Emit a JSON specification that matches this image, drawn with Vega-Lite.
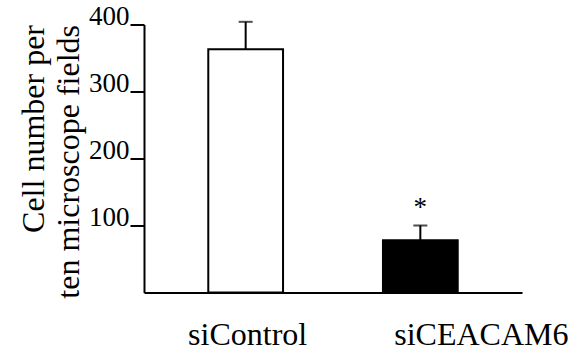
{
  "$schema": "https://vega.github.io/schema/vega-lite/v6.json",
  "autosize": {"type": "none"},
  "padding": {"left": 144, "top": 24.5, "right": 57, "bottom": 61.5},
  "width": 378,
  "height": 268,
  "background": "white",
  "config": {"view": {"stroke": null}, "font": "Liberation Serif"},
  "data": {"values": [
    {"group": "siControl", "value": 363, "err": 404, "sig": ""},
    {"group": "siCEACAM6", "value": 78, "err": 100, "sig": "*"}
  ]},
  "encoding": {
    "x": {
      "field": "group", "type": "nominal", "sort": ["siControl", "siCEACAM6"],
      "scale": {"paddingInner": 0.572, "paddingOuter": 0.368},
      "axis": {
        "title": null, "ticks": false, "domainColor": "black", "domainWidth": 2,
        "labelAngle": 0, "labelFontSize": 32, "labelColor": "black", "labelPadding": 27,
        "labelBaseline": "top", "labelFont": "Liberation Serif",
        "labelOffset": {"condition": {"test": "datum.value === 'siCEACAM6'", "value": 61}, "value": 2}
      }
    }
  },
  "layer": [
    {
      "mark": {"type": "bar", "stroke": "black", "strokeWidth": 2},
      "encoding": {
        "y": {
          "field": "value", "type": "quantitative", "scale": {"domain": [0, 400]},
          "axis": {
            "values": [100, 200, 300, 400], "title": ["Cell number per", "ten microscope fields"],
            "grid": false, "domainColor": "black", "domainWidth": 2, "tickColor": "black",
            "tickWidth": 2, "tickSize": 14, "labelFontSize": 27, "labelColor": "black",
            "labelPadding": 1, "labelBaseline": "alphabetic", "labelFont": "Liberation Serif",
            "titleFont": "Liberation Serif", "titleFontSize": 32, "titleFontWeight": "normal",
            "titleColor": "black", "titleAngle": 270, "titleAlign": "right",
            "titleBaseline": "alphabetic", "titleX": -101, "titleY": 0, "titleLineHeight": 35
          }
        },
        "fill": {
          "field": "group", "type": "nominal",
          "scale": {"domain": ["siControl", "siCEACAM6"], "range": ["white", "black"]},
          "legend": null
        }
      }
    },
    {
      "mark": {"type": "rule", "color": "black", "strokeWidth": 2},
      "encoding": {"y": {"field": "value", "type": "quantitative"}, "y2": {"field": "err"}}
    },
    {
      "mark": {"type": "tick", "color": "black", "thickness": 2, "size": 14},
      "encoding": {"y": {"field": "err", "type": "quantitative"}}
    },
    {
      "mark": {"type": "text", "fontSize": 27, "dy": -18, "baseline": "middle", "font": "Liberation Serif", "color": "black"},
      "encoding": {"y": {"field": "err", "type": "quantitative"}, "text": {"field": "sig"}}
    }
  ]
}
